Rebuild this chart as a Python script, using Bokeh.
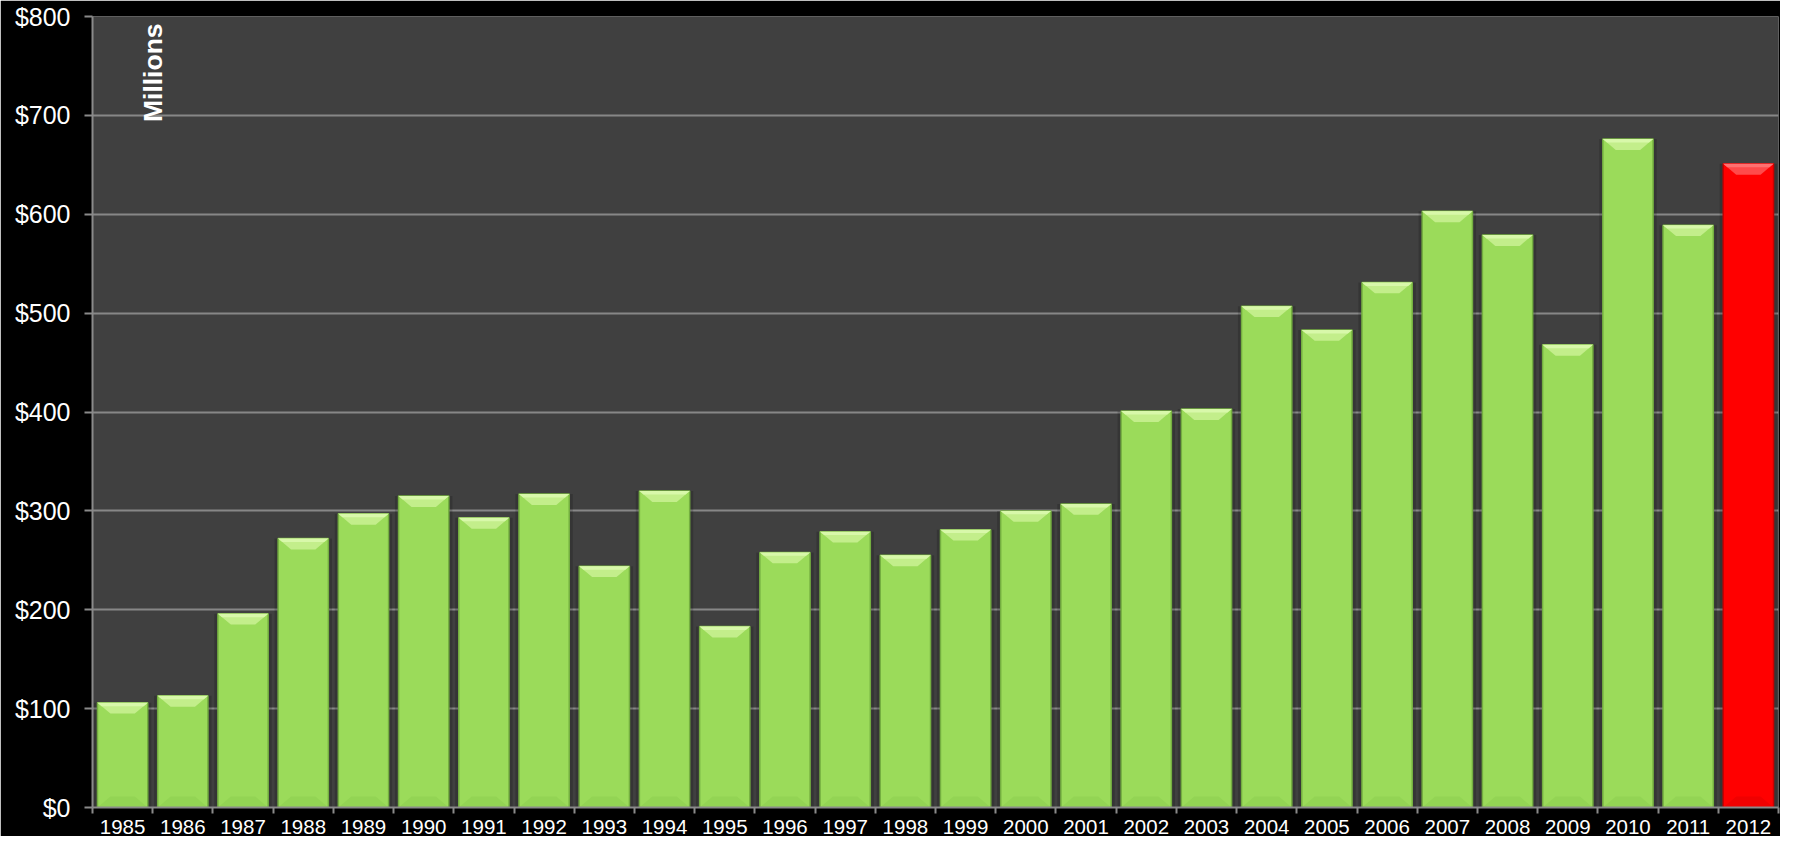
import math
from bokeh.plotting import figure
from bokeh.models import ColumnDataSource, FixedTicker, NumeralTickFormatter, Label, Range1d
from bokeh.embed import file_html
from bokeh.resources import INLINE

# ---- data ----
years = ["1985", "1986", "1987", "1988", "1989", "1990", "1991", "1992", "1993", "1994",
         "1995", "1996", "1997", "1998", "1999", "2000", "2001", "2002", "2003", "2004",
         "2005", "2006", "2007", "2008", "2009", "2010", "2011", "2012"]
values = [106, 113, 196, 272, 297, 315, 293, 317, 244, 320,
          183, 258, 279, 255, 281, 300, 307, 401, 403, 507,
          483, 531, 603, 579, 468, 676, 589, 651]
highlight_year = "2012"
y_ticks = [0, 100, 200, 300, 400, 500, 600, 700, 800]
y_max = 800
unit_label = "Millions"

FONT = "Liberation Sans"
idx = list(range(len(years)))
bar_w = 0.835
bev_x = 0.215
bev_y = 11.0
hl = [y == highlight_year for y in years]

main_c = ["#FF0000" if h else "#9BDB5A" for h in hl]
edge_c = ["#C80000" if h else "#74AE40" for h in hl]
top_c = ["#FF4A4A" if h else "#C3EE8B" for h in hl]
top2_c = ["#FF7070" if h else "#D8F8AA" for h in hl]
bot_c = ["#F00000" if h else "#93D454" for h in hl]

src = ColumnDataSource(dict(x=idx, top=values, main=main_c, edge=edge_c))

def trap(i, v, depth, inset):
    l, r = i - bar_w / 2, i + bar_w / 2
    return [l, r, r - inset, l + inset], [v, v, v - depth, v - depth]

txs, tys, t2xs, t2ys, bxs, bys = [], [], [], [], [], []
for i, v in zip(idx, values):
    a, b = trap(i, v, bev_y, bev_x)
    txs.append(a); tys.append(b)
    a, b = trap(i, v, 3.5, bev_x * 3.5 / bev_y)
    t2xs.append(a); t2ys.append(b)
    l, r = i - bar_w / 2, i + bar_w / 2
    bxs.append([l, r, r - bev_x, l + bev_x]); bys.append([0, 0, bev_y, bev_y])

p = figure(width=1780, height=836,
           x_range=Range1d(-0.5, len(years) - 0.5), y_range=Range1d(0, y_max),
           output_backend="svg", toolbar_location=None,
           min_border_left=92, min_border_right=2, min_border_top=16, min_border_bottom=0,
           background_fill_color="#404040", border_fill_color="black",
           outline_line_color=None)

# shadow
p.vbar(x="x", top="top", width=bar_w + 0.12, bottom=0, source=src,
       fill_color="black", fill_alpha=0.16, line_color=None)
# main bars
p.vbar(x="x", top="top", width=bar_w, bottom=0, source=src,
       fill_color="main", line_color="edge", line_width=1.5)
# bevels
p.patches(xs=bxs, ys=bys, fill_color=bot_c, line_color=None)
p.patches(xs=txs, ys=tys, fill_color=top_c, line_color=None)
p.patches(xs=t2xs, ys=t2ys, fill_color=top2_c, line_color=None)

# grid
p.xgrid.visible = False
p.ygrid.ticker = FixedTicker(ticks=y_ticks)
p.ygrid.grid_line_color = "#878787"
p.ygrid.grid_line_width = 2

# y axis
ya = p.yaxis[0]
ya.ticker = FixedTicker(ticks=y_ticks)
ya.formatter = NumeralTickFormatter(format="$0")
ya.axis_line_color = "#8A8A8A"
ya.axis_line_width = 2
ya.major_tick_line_color = "#8A8A8A"
ya.major_tick_line_width = 2
ya.major_tick_out = 8
ya.major_tick_in = 0
ya.minor_tick_line_color = None
ya.major_label_text_color = "white"
ya.major_label_text_font = FONT
ya.major_label_text_font_size = "25px"
ya.major_label_standoff = 14

# x axis
xa = p.xaxis[0]
xa.ticker = FixedTicker(ticks=idx, minor_ticks=[i - 0.5 for i in range(len(years) + 1)])
xa.major_label_overrides = {i: y for i, y in zip(idx, years)}
xa.axis_line_color = "#8A8A8A"
xa.axis_line_width = 2
xa.major_tick_line_color = None
xa.major_tick_out = 6
xa.major_tick_in = 0
xa.minor_tick_line_color = "#8A8A8A"
xa.minor_tick_line_width = 2
xa.minor_tick_out = 6
xa.minor_tick_in = 0
xa.major_label_text_color = "white"
xa.major_label_text_font = FONT
xa.major_label_text_font_size = "20.5px"
xa.major_label_standoff = 6

p.add_layout(Label(x=0.5, y=793, text=unit_label, angle=math.pi / 2,
                   text_align="right", text_baseline="middle",
                   text_font=FONT, text_font_style="bold", text_font_size="26.5px",
                   text_color="white"))

open("out.html", "w").write(file_html(p, INLINE))
